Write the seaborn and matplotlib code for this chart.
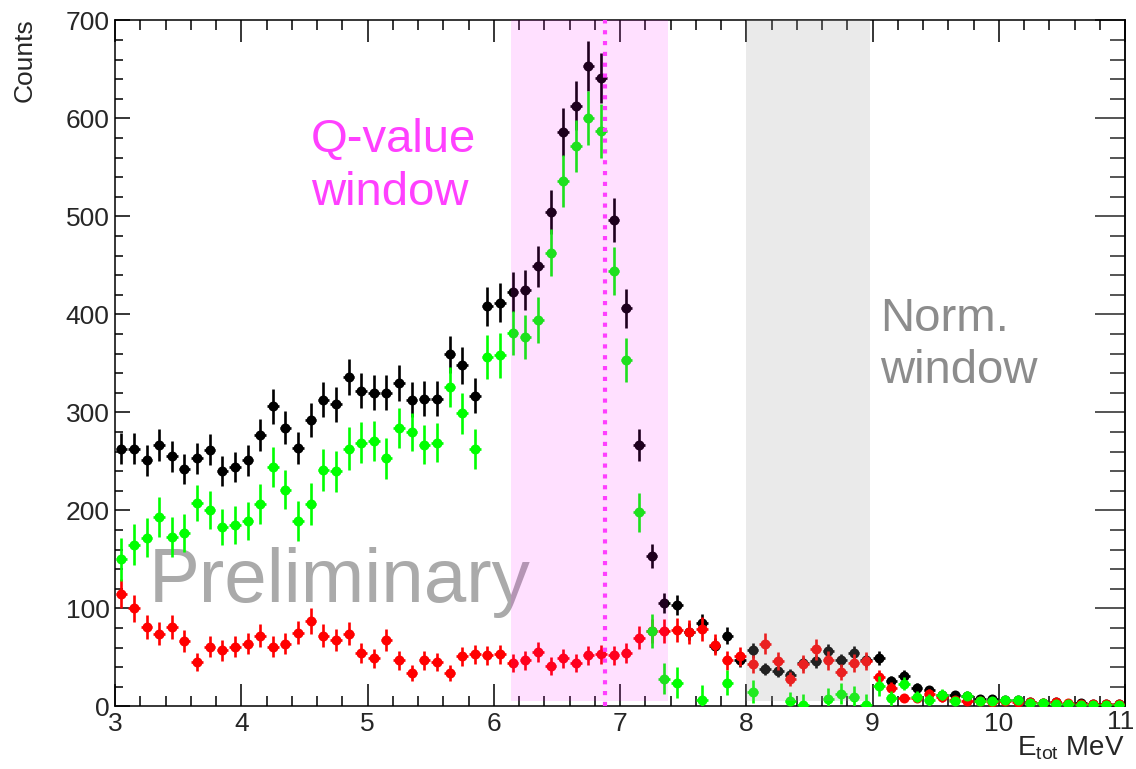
import numpy as np
import pandas as pd
import matplotlib
matplotlib.use("Agg")
import matplotlib.pyplot as plt
from matplotlib.ticker import MultipleLocator, FuncFormatter
import seaborn as sns

# bin centres, 0.1 MeV bins from 3 to 11
energy = np.round(np.arange(3.05, 11.0, 0.1), 2)

# total spectrum (black)
total = [263, 263, 251, 267, 255, 242, 253, 262, 240, 244,
         251, 277, 306, 284, 264, 292, 313, 308, 336, 322,
         320, 320, 330, 313, 314, 314, 359, 348, 317, 408,
         412, 423, 425, 449, 504, 586, 613, 653, 641, 496,
         406, 267, 153, 105, 103, 76, 85, 62, 72, 47,
         57, 38, 36, 32, 44, 46, 56, 47, 54, 47,
         49, 26, 31, 19, 17, 12, 12, 11, 7, 7,
         6, 6, 4, 3, 4, 2, 3, 2, 2, 2]

# normalised background (red)
background = [115, 100, 81, 74, 81, 67, 45, 61, 57, 61,
              64, 72, 61, 64, 75, 87, 72, 68, 74, 54,
              49, 68, 47, 34, 47, 45, 34, 51, 53, 52,
              53, 44, 47, 55, 41, 49, 44, 52, 53, 52,
              54, 70, 77, 77, 78, 76, 79, 63, 47, 51,
              43, 64, 46, 28, 43, 58, 47, 35, 44, 46,
              30, 19, 8, 8, 13, 9, 6, 5, 5, 4,
              5, 4, 4, 3, 4, 3, 2, 2, 2, 2]

# background-subtracted (green); nan = not drawn (below zero)
subtracted = [150, 165, 172, 193, 173, 177, 207, 200, 183, 185,
              189, 206, 244, 221, 189, 206, 241, 240, 263, 269,
              271, 253, 284, 280, 267, 269, 326, 299, 263, 356,
              358, 381, 377, 394, 463, 536, 572, 600, 587, 444,
              353, 198, 77, 28, 24, np.nan, 6, np.nan, 24, np.nan,
              15, np.nan, np.nan, 5, 1, np.nan, 7, 13, 9, 1,
              21, 8, 23, 10, 6, 12, 5, 11, 5, 5,
              6, 6, 3, 3, 2, 2, 1, 1, 1, 1]

bkg_scale = 1.9  # normalisation factor of the background spectrum
q_window = (6.14, 7.38)
q_value = 6.88
norm_window = (8.0, 8.98)

df = pd.DataFrame({"E": energy, "total": total, "bkg": background, "sub": subtracted})
df["total_err"] = np.sqrt(df["total"])
df["bkg_err"] = np.sqrt(bkg_scale * df["bkg"])
df["sub_err"] = np.sqrt(df["total"] + bkg_scale * df["bkg"])

sns.set_style("ticks")
plt.rcParams['font.family'] = ['Liberation Sans', 'DejaVu Sans']
plt.rcParams['mathtext.fontset'] = 'custom'
plt.rcParams['mathtext.rm'] = 'Liberation Sans'
plt.rcParams['mathtext.it'] = 'Liberation Sans:italic'

fig = plt.figure(figsize=(11.36, 7.69), dpi=100)
ax = fig.add_axes([115 / 1136, 62.7 / 769, 1010 / 1136, 686 / 769])

# "Preliminary" sits under the data
ax.text(3.27, 106, "Preliminary", fontsize=55, color="#aaaaaa", zorder=1)

series = [("total", "total_err", "#000000", 3),
          ("bkg", "bkg_err", "#ff0000", 4),
          ("sub", "sub_err", "#00ff00", 5)]
for col, err, color, z in series:
    d = df.dropna(subset=[col])
    ax.errorbar(d["E"], d[col], yerr=d[err], xerr=0.046, fmt="none",
                ecolor=color, elinewidth=1.9, capsize=0, zorder=z)
    sns.scatterplot(data=d, x="E", y=col, ax=ax, color=color, marker="o",
                    s=52, linewidth=0, zorder=z + 0.1, legend=False)

# windows drawn on top (semi transparent, as in the original)
ax.fill_between(q_window, 5, 700, color="#ff00ff", alpha=0.12, lw=0, zorder=8)
ax.fill_between(norm_window, 5, 700, color="#a0a0a0", alpha=0.21, lw=0, zorder=8)
ax.vlines(q_value, 0, 700, colors="#ff3dff", linewidth=3.0,
          linestyles=(0, (1, 1.6)), zorder=9)

ax.text(4.55, 600, "Q-value\nwindow", fontsize=34, color="#ff40ff",
        va="top", ha="left", linespacing=1.25, zorder=10)
ax.text(9.06, 418, "Norm.\nwindow", fontsize=34, color="#8c8c8c",
        va="top", ha="left", linespacing=1.25, zorder=10)

ax.set_xlim(3, 11)
ax.set_ylim(0, 700)
ax.set_xlabel("")
ax.set_ylabel("")
ax.xaxis.set_major_locator(MultipleLocator(1))
ax.xaxis.set_minor_locator(MultipleLocator(0.2))
# last label "11" is placed by hand so it stays inside the canvas
ax.xaxis.set_major_formatter(FuncFormatter(lambda v, p: "" if v > 10.5 else f"{v:.0f}"))
ax.yaxis.set_major_locator(MultipleLocator(100))
ax.yaxis.set_minor_locator(MultipleLocator(20))
ax.tick_params(axis="x", which="both", direction="in", top=True, bottom=True,
               labelsize=19, pad=4, width=1.1, color="black")
ax.tick_params(axis="x", which="major", length=15.8)
ax.tick_params(axis="x", which="minor", length=7.5)
ax.tick_params(axis="y", which="both", direction="in", left=True, right=False,
               labelsize=19, pad=4, width=1.1, color="black")
ax.tick_params(axis="y", which="major", length=10.8)
ax.tick_params(axis="y", which="minor", length=5.4)
for sp in ax.spines.values():
    sp.set_linewidth(1.1)
    sp.set_color("black")

# right-hand axis has longer ticks
sec = ax.secondary_yaxis("right")
sec.yaxis.set_major_locator(MultipleLocator(100))
sec.yaxis.set_minor_locator(MultipleLocator(20))
sec.tick_params(which="both", direction="in", labelright=False, width=1.1)
sec.tick_params(which="major", length=21.6)
sec.tick_params(which="minor", length=10.8)
sec.spines["right"].set_linewidth(1.1)

fig.text(1134 / 1136, 1 - 710 / 769, "11", ha="right", va="top", fontsize=19)
fig.text(25 / 1136, 1 - 18 / 769, "Counts", rotation=90, ha="center", va="top",
         fontsize=19)
fig.text(1125 / 1136, 1 - 748 / 769, r"E$_{\mathrm{tot}}$ MeV", ha="right",
         va="center", fontsize=20)

fig.savefig("out.png", dpi=100)
